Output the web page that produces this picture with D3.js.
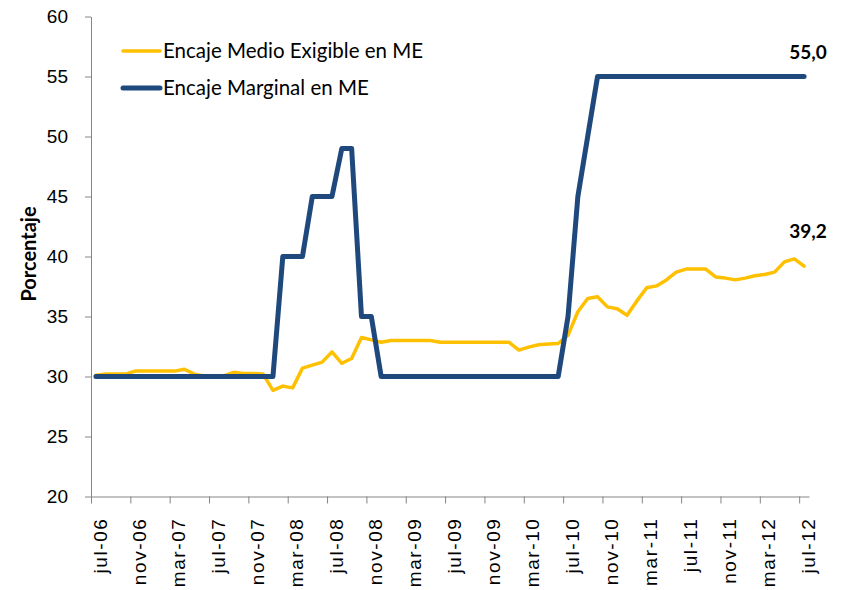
<!DOCTYPE html>
<html lang="es">
<meta charset="UTF-8">
<style>
    body { margin: 0; background: #fff; }
    svg { display: block; font-family: Lato, "Open Sans", sans-serif; }
    .axis path, .axis line { stroke: #868686; stroke-width: 1px; }
    .axis text { fill: #000; }
    .line { fill: none; stroke-linejoin: round; stroke-linecap: round; }
</style>
<body>
<svg width="845" height="590" id="chart"></svg>
<script src="https://d3js.org/d3.v7.min.js"></script>
<script>
// meses jul-06 .. jul-12
const meses = [
    "jul-06","ago-06","sep-06","oct-06","nov-06","dic-06",
    "ene-07","feb-07","mar-07","abr-07","may-07","jun-07",
    "jul-07","ago-07","sep-07","oct-07","nov-07","dic-07",
    "ene-08","feb-08","mar-08","abr-08","may-08","jun-08",
    "jul-08","ago-08","sep-08","oct-08","nov-08","dic-08",
    "ene-09","feb-09","mar-09","abr-09","may-09","jun-09",
    "jul-09","ago-09","sep-09","oct-09","nov-09","dic-09",
    "ene-10","feb-10","mar-10","abr-10","may-10","jun-10",
    "jul-10","ago-10","sep-10","oct-10","nov-10","dic-10",
    "ene-11","feb-11","mar-11","abr-11","may-11","jun-11",
    "jul-11","ago-11","sep-11","oct-11","nov-11","dic-11",
    "ene-12","feb-12","mar-12","abr-12","may-12","jun-12",
    "jul-12"
];

// Encaje Medio Exigible en ME
const medioExigible = [
    30.1, 30.2, 30.2, 30.2, 30.45, 30.45, 30.45, 30.45, 30.45, 30.6, 30.2, 30.05,
    30.0, 30.05, 30.35, 30.25, 30.25, 30.2, 28.85, 29.2, 29.05, 30.7, 30.95, 31.2,
    32.05, 31.1, 31.5, 33.25, 33.05, 32.85, 33.0, 33.0, 33.0, 33.0, 33.0, 32.85,
    32.85, 32.85, 32.85, 32.85, 32.85, 32.85, 32.85, 32.2, 32.45, 32.65, 32.7, 32.75,
    33.45, 35.4, 36.5, 36.65, 35.8, 35.65, 35.1, 36.3, 37.4, 37.55, 38.05, 38.7,
    38.95, 38.95, 38.95, 38.3, 38.2, 38.05, 38.2, 38.4, 38.5, 38.7, 39.55, 39.8,
    39.2
];

// Encaje Marginal en ME
const marginal = [
    30, 30, 30, 30, 30, 30, 30, 30, 30, 30, 30, 30,
    30, 30, 30, 30, 30, 30, 30, 40, 40, 40, 45, 45,
    45, 49, 49, 35, 35, 30, 30, 30, 30, 30, 30, 30,
    30, 30, 30, 30, 30, 30, 30, 30, 30, 30, 30, 30,
    35, 45, 50, 55, 55, 55, 55, 55, 55, 55, 55, 55,
    55, 55, 55, 55, 55, 55, 55, 55, 55, 55, 55, 55,
    55
];

const yTicks = [20, 25, 30, 35, 40, 45, 50, 55, 60];
const etiquetaIdx = d3.range(0, meses.length, 4);   // jul, nov, mar...

const svg = d3.select('#chart');
const plotLeft = 91, plotRight = 809, plotTop = 16.5, plotBottom = 496.5;

const x = d3.scaleBand()
    .domain(d3.range(meses.length))
    .range([plotLeft, plotRight]);
const xc = i => x(i) + x.bandwidth() / 2;
const xLin = d3.scaleLinear().domain([0, meses.length]).range([plotLeft, plotRight]);

const y = d3.scaleLinear().domain([20, 60]).range([plotBottom, plotTop]);

// eje Y
svg.append('g')
    .attr('class', 'axis')
    .attr('transform', `translate(${plotLeft},0)`)
    .call(d3.axisLeft(y).tickValues(yTicks).tickSize(6).tickPadding(17).tickSizeOuter(0))
    .call(g => g.selectAll('text').attr('font-size', '19px'));

// eje X: marcas entre categorias
svg.append('g')
    .attr('class', 'axis')
    .attr('transform', `translate(0,${plotBottom})`)
    .call(d3.axisBottom(xLin).tickValues(etiquetaIdx).tickSize(7).tickSizeOuter(0).tickFormat(''));

// eje X: etiquetas
svg.append('g')
    .attr('class', 'axis')
    .attr('transform', `translate(0,${plotBottom})`)
    .call(d3.axisBottom(x).tickValues(etiquetaIdx).tickSize(0).tickFormat(i => meses[i]))
    .call(g => g.select('.domain').remove())
    .call(g => g.selectAll('text')
        .attr('font-size', '19px')
        .attr('letter-spacing', '1.6px')
        .attr('text-anchor', 'end')
        .attr('transform', 'rotate(-90)')
        .attr('x', -21)
        .attr('y', 4)
        .attr('dy', '0.35em'));

// titulo eje Y
svg.append('text')
    .attr('transform', 'translate(36,254) rotate(-90)')
    .attr('text-anchor', 'middle')
    .attr('font-size', '20px')
    .attr('font-weight', 'bold')
    .text('Porcentaje');

const line = d3.line().x((d, i) => xc(i)).y(d => y(d));

svg.append('path')
    .datum(medioExigible)
    .attr('class', 'line')
    .attr('stroke', '#FFC000')
    .attr('stroke-width', 3.5)
    .attr('d', line);

svg.append('path')
    .datum(marginal)
    .attr('class', 'line')
    .attr('stroke', '#1F497D')
    .attr('stroke-width', 5)
    .attr('d', line);

// etiquetas de ultimo dato
const last = meses.length - 1;
svg.append('text')
    .attr('x', xc(last) + 4)
    .attr('y', y(marginal[last]) - 18)
    .attr('text-anchor', 'middle')
    .attr('font-size', '19px')
    .attr('font-weight', 'bold')
    .text(d3.format('.1f')(marginal[last]).replace('.', ','));

svg.append('text')
    .attr('x', xc(last) + 4)
    .attr('y', y(medioExigible[last]) - 28)
    .attr('text-anchor', 'middle')
    .attr('font-size', '19px')
    .attr('font-weight', 'bold')
    .text(d3.format('.1f')(medioExigible[last]).replace('.', ','));

// leyenda
const leyenda = [
    {name: 'Encaje Medio Exigible en ME', color: '#FFC000', w: 3.5, yy: 51},
    {name: 'Encaje Marginal en ME', color: '#1F497D', w: 5, yy: 88}
];
const lg = svg.append('g');
leyenda.forEach(l => {
    lg.append('line')
        .attr('x1', 123).attr('x2', 160)
        .attr('y1', l.yy).attr('y2', l.yy)
        .attr('stroke', l.color)
        .attr('stroke-width', l.w)
        .attr('stroke-linecap', 'round');
    lg.append('text')
        .attr('x', 163)
        .attr('y', l.yy)
        .attr('dy', '0.35em')
        .attr('font-size', '20.5px')
        .text(l.name);
});
</script>
</body>
</html>
